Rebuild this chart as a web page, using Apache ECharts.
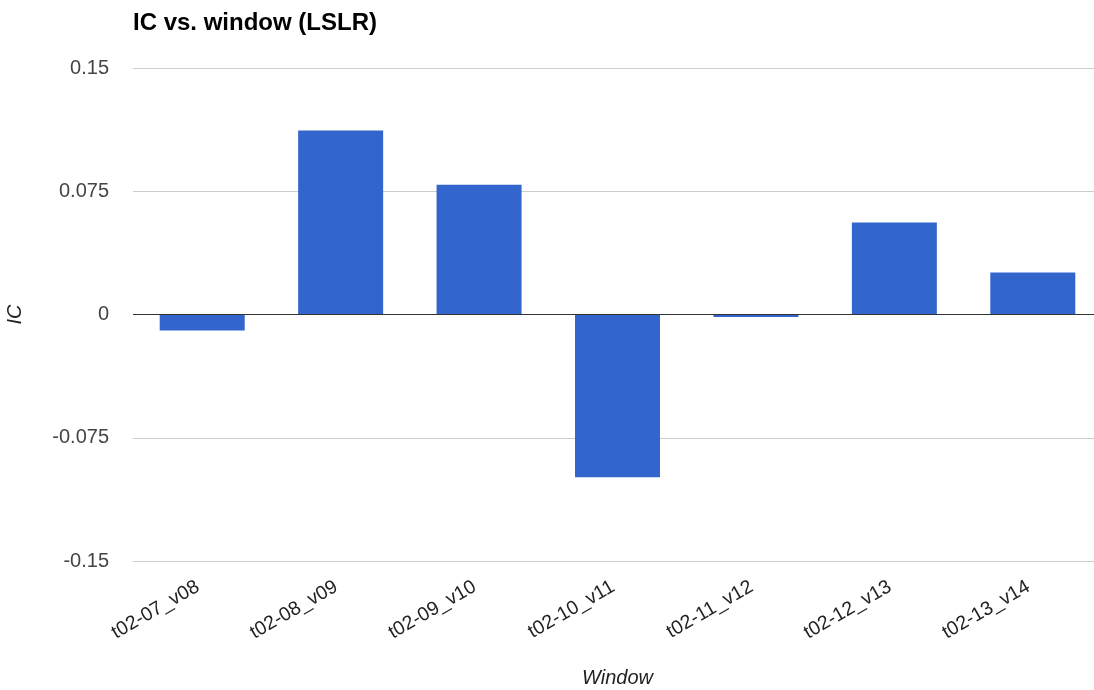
<!DOCTYPE html>
<html>
<head>
<meta charset="utf-8">
<script src="https://cdn.jsdelivr.net/npm/echarts@6/dist/echarts.min.js"></script>
<style>html,body{margin:0;padding:0;background:#fff;overflow:hidden}#c{width:1094px;height:690px}</style>
</head>
<body>
<div id="c"></div>
<script>
const categories = ["t02-07_v08","t02-08_v09","t02-09_v10","t02-10_v11","t02-11_v12","t02-12_v13","t02-13_v14"];
const icValues = [-0.0098, 0.112, 0.079, -0.099, -0.0015, 0.056, 0.0255];
const yTicks = [-0.15, -0.075, 0, 0.075, 0.15];

const chart = echarts.init(document.getElementById('c'), null, {renderer:'canvas'});
chart.setOption({
  backgroundColor:'#fff',
  animation:false,
  textStyle:{fontFamily:'"Liberation Sans", Arial, sans-serif'},
  title:{text:'IC vs. window (LSLR)', left:128, top:6,
    textStyle:{fontSize:24, fontWeight:'bold', color:'#000', fontFamily:'"Liberation Sans", Arial, sans-serif'}},
  grid:{left:133, right:-8, top:68, bottom:129, containLabel:false, outerBoundsMode:'none'},
  xAxis:{type:'category', data:categories,
    name:'Window', nameLocation:'middle', nameGap:107,
    nameTextStyle:{fontStyle:'italic', fontSize:20, color:'#222'},
    axisLine:{show:false}, axisTick:{show:false},
    axisLabel:{rotate:30, fontSize:19.5, color:'#222', margin:22, padding:[0,5,0,0], interval:0}},
  yAxis:{type:'value', min:yTicks[0], max:yTicks[yTicks.length-1], interval:0.075,
    name:'IC', nameLocation:'middle', nameGap:108,
    nameTextStyle:{fontStyle:'italic', fontSize:20, color:'#222'},
    axisLine:{show:false}, axisTick:{show:false},
    splitLine:{lineStyle:{color:'#cccccc', width:1}},
    axisLabel:{fontSize:20, color:'#444', margin:24,
      formatter:v=>{const r=parseFloat(v.toFixed(3)); return r===0?'0':String(r);}}},
  series:[{type:'bar', data:icValues, barWidth:85,
    itemStyle:{color:'#3366cc'},
    markLine:{silent:true, symbol:'none', label:{show:false},
      lineStyle:{color:'#333', width:1, type:'solid'}, data:[{yAxis:0}]}}]
});
</script>
</body>
</html>
